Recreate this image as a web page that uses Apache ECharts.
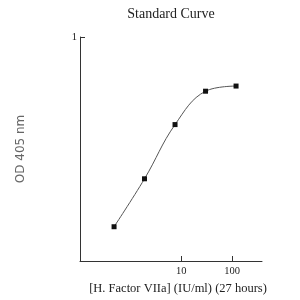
<!DOCTYPE html>
<html>
<head>
<meta charset="utf-8">
<script src="https://cdn.jsdelivr.net/npm/echarts@6/dist/echarts.min.js"></script>
<style>
  html, body { margin: 0; padding: 0; background: #fff; }
  #chart { width: 300px; height: 300px; }
</style>
</head>
<body>
<div id="chart"></div>
<script>
// concentration (IU/ml) and OD 405 nm readings
const concentrations = [0.47, 1.875, 7.5, 30, 120];
const odValues = [0.153, 0.367, 0.609, 0.758, 0.781];
const xTickValues = [10, 100];
const yTickValues = [1];

const serif = "Liberation Serif";
const chart = echarts.init(document.getElementById("chart"));

chart.setOption({
  animation: false,
  title: {
    text: "Standard Curve",
    left: 166,
    top: 2,
    textAlign: "center",
    textStyle: { fontFamily: serif, fontSize: 14, fontWeight: "normal", color: "#222" },
  },
  grid: { left: 80, right: 38, top: 37, bottom: 36 },
  xAxis: {
    type: "log",
    min: 0.1,
    max: 390,
    name: "[H. Factor VIIa] (IU/ml) (27 hours)",
    nameLocation: "middle",
    nameGap: 21,
    nameTextStyle: { fontFamily: serif, fontSize: 12.5, color: "#222", padding: [0, 0, 0, 14] },
    axisLine: { lineStyle: { color: "#333", width: 1 } },
    axisTick: { inside: true, length: 5, customValues: xTickValues, lineStyle: { color: "#333" } },
    axisLabel: { customValues: xTickValues, fontFamily: serif, fontSize: 10.5, color: "#222", margin: 5 },
    splitLine: { show: false },
    minorTick: { show: false },
  },
  yAxis: {
    type: "value",
    min: 0,
    max: 1,
    name: "OD 405 nm",
    nameLocation: "middle",
    nameGap: 53,
    nameRotate: 90,
    nameTextStyle: { fontFamily: "DejaVu Sans", fontSize: 12, color: "#666" },
    axisLine: { show: true, lineStyle: { color: "#333", width: 1 } },
    axisTick: { show: true, inside: true, length: 5, customValues: yTickValues, lineStyle: { color: "#333" } },
    axisLabel: { customValues: yTickValues, fontFamily: serif, fontSize: 10.5, color: "#222", margin: 3 },
    splitLine: { show: false },
  },
  series: [
    {
      type: "line",
      data: concentrations.map((c, i) => [c, odValues[i]]),
      smooth: 0.4,
      symbol: "rect",
      symbolSize: 5,
      itemStyle: { color: "#111" },
      lineStyle: { color: "#555", width: 1 },
    },
  ],
});
</script>
</body>
</html>
